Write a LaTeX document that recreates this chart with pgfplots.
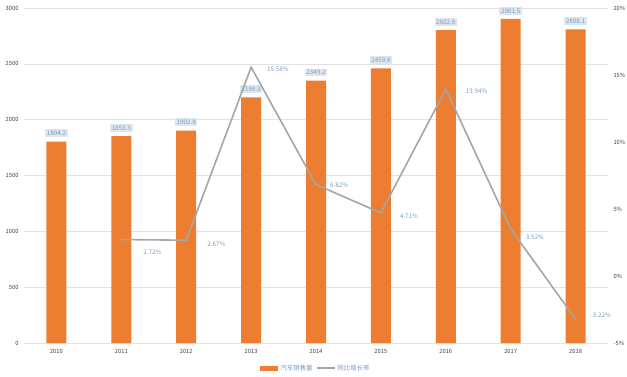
\documentclass[border=0pt]{standalone}
\usepackage{pgfplots}
\pgfplotsset{compat=1.18}
\usepackage{fontspec}
\setmainfont{Noto Sans CJK SC}
\definecolor{barorange}{HTML}{ED7D31}
\definecolor{linegrey}{HTML}{A5A5A5}
\definecolor{lblblue}{HTML}{7C9CC2}
\definecolor{lblfill}{HTML}{DFE6EE}
\definecolor{gridc}{HTML}{E2E2E2}
\definecolor{tickc}{HTML}{404040}
\begin{document}
\begin{tikzpicture}[x=1bp,y=1bp]
\useasboundingbox (0,0) rectangle (627,376);
\begin{axis}[
  at={(24bp,33bp)}, anchor=south west,
  scale only axis, width=584bp, height=335bp,
  xmin=-0.5, xmax=8.5, ymin=0, ymax=3000,
  xtick={0,...,8},
  xticklabels={2010,2011,2012,2013,2014,2015,2016,2017,2018},
  ytick={0,500,...,3000},
  ymajorgrids, grid style={gridc, line width=0.6pt},
  axis line style={draw=none},
  axis x line*=bottom,
  x axis line style={draw=gridc, line width=0.6pt},
  major tick length=0pt,
  tick label style={font=\fontsize{5.8}{6}\selectfont, text=tickc},
  /pgf/number format/assume math mode=true,
  /pgf/number format/1000 sep={},
  yticklabel style={anchor=east, xshift=-2bp},
  xticklabel style={yshift=-3bp},
  legend style={at={(0.5,-0.075)}, anchor=center, draw=none, fill=none,
    font=\fontsize{6.5}{7}\selectfont, text=lblblue, legend columns=2,
    /tikz/every even column/.append style={column sep=1bp}},
  legend image code/.code={\fill[barorange] (0bp,-2.5bp) rectangle (18bp,2.5bp);},
]
\addplot[ybar, bar width=20bp, fill=barorange, draw=none,
  nodes near coords,
  point meta=explicit symbolic,
  every node near coord/.append style={font=\fontsize{6.3}{7}\selectfont, text=lblblue, fill=lblfill, inner sep=1.6bp, yshift=4bp}]
  table[meta=lab] {
x y lab
0 1804.2 1804.2
1 1853.3 1853.3
2 1902.8 1902.8
3 2199.3 2199.3
4 2349.2 2349.2
5 2459.8 2459.8
6 2802.8 2802.8
7 2901.5 2901.5
8 2808.1 2808.1
};
\addlegendentry{汽车销售量}
\addlegendimage{legend image code/.code={\draw[linegrey, line width=1.6pt] (0bp,0bp) -- (18bp,0bp);}}
\addlegendentry{同比增长率}
\end{axis}
\begin{axis}[
  at={(24bp,33bp)}, anchor=south west,
  scale only axis, width=584bp, height=335bp,
  xmin=-0.5, xmax=8.5, ymin=-5, ymax=20,
  axis y line*=right, axis x line=none,
  axis line style={draw=none},
  ytick={-5,0,5,10,15,20},
  yticklabel={\pgfmathprintnumber{\tick}\%},
  major tick length=0pt,
  tick label style={font=\fontsize{5.8}{6}\selectfont, text=tickc},
  /pgf/number format/assume math mode=true,
  yticklabel style={anchor=west, xshift=2bp},
]
\addplot[linegrey, line width=1.6pt, mark=none,
  nodes near coords,
  point meta=explicit symbolic,
  visualization depends on={\thisrow{dx} \as \dx},
  visualization depends on={\thisrow{dy} \as \dy},
  every node near coord/.append style={font=\fontsize{6.3}{7}\selectfont, text=lblblue, anchor=west, xshift=\dx bp, yshift=\dy bp}]
  table[meta=lab] {
x y lab dx dy
1 2.72 2.72\% 18 -13
2 2.67 2.67\% 17 -4
3 15.58 15.58\% 12 -2
4 6.82 6.82\% 10 -1
5 4.71 4.71\% 15 -3
6 13.94 13.94\% 16 -2
7 3.52 3.52\% 11 -8
8 -3.22 -3.22\% 11 4
};
\end{axis}
\end{tikzpicture}
\end{document}
